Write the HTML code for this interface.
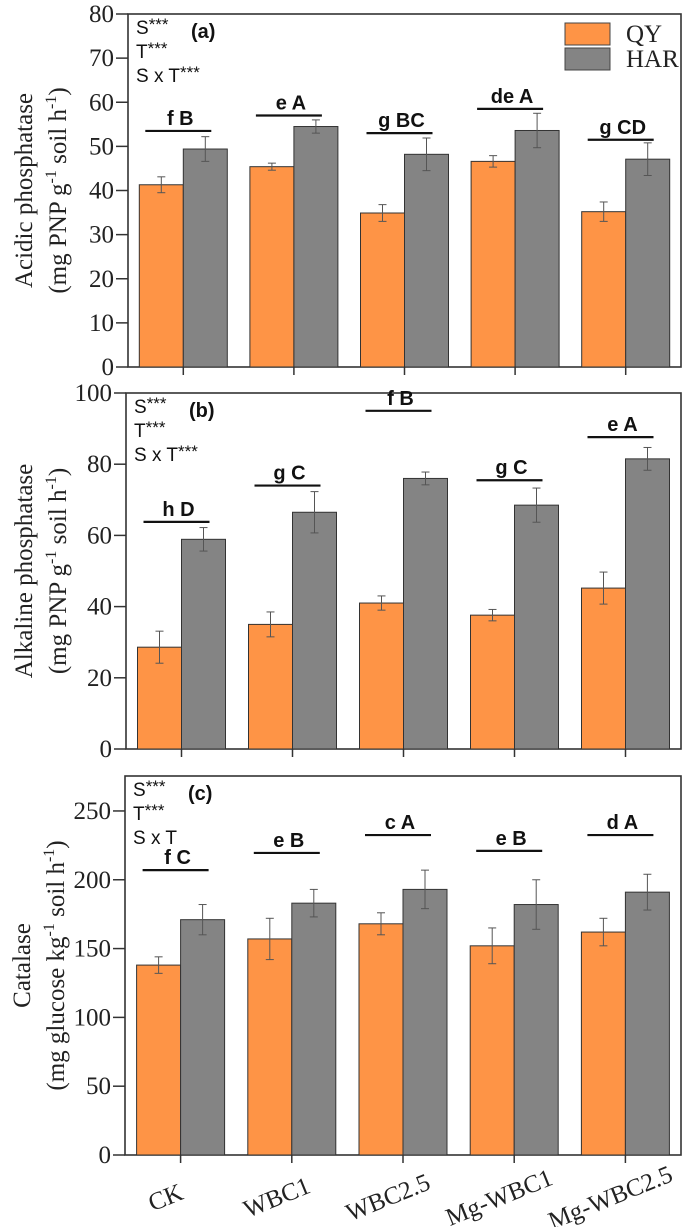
<!DOCTYPE html>
<html><head><meta charset="utf-8"><style>
html,body{margin:0;padding:0;background:#fff}
svg{display:block}
.tk{font-family:"Liberation Serif",serif;font-size:25px;fill:#222}
.ttl{font-family:"Liberation Serif",serif;font-size:25px;fill:#222}
.ann{font-family:"Liberation Sans",sans-serif;font-size:19px;fill:#111}
.lab{font-family:"Liberation Sans",sans-serif;font-size:20px;font-weight:bold;fill:#111}
</style></head><body>
<svg id="chart" width="685" height="1227" xmlns="http://www.w3.org/2000/svg"></svg>
<script>
const categories=["CK","WBC1","WBC2.5","Mg-WBC1","Mg-WBC2.5"];
const seriesNames=["QY","HAR"];
const aQY=[41.3,45.4,34.9,46.6,35.2];
const aQYerr=[1.8,0.8,1.9,1.3,2.2];
const aHAR=[49.4,54.5,48.2,53.6,47.1];
const aHARerr=[2.8,1.5,3.7,3.9,3.7];
const aLetters=["f B","e A","g BC","de A","g CD"];
const aLetterY=[53.5,57,53,58.5,51.5];
const aTicks=[0,10,20,30,40,50,60,70,80];
const bQY=[28.6,35,41,37.6,45.2];
const bQYerr=[4.5,3.5,2,1.6,4.5];
const bHAR=[58.9,66.5,76,68.5,81.5];
const bHARerr=[3.3,5.8,1.8,4.8,3.2];
const bLetters=["h D","g C","f B","g C","e A"];
const bLetterY=[63.8,74,95,75.5,87.6];
const bTicks=[0,20,40,60,80,100];
const cQY=[138,157,168,152,162];
const cQYerr=[6,15,8,13,10];
const cHAR=[171,183,193,182,191];
const cHARerr=[11,10,14,18,13];
const cLetters=["f C","e B","c A","e B","d A"];
const cLetterY=[207,219.5,232.5,221,232.5];
const cTicks=[0,50,100,150,200,250];

const NS="http://www.w3.org/2000/svg";
const svg=document.getElementById('chart');
function mk(tag,attrs,parent,text){const e=document.createElementNS(NS,tag);for(const k in attrs)e.setAttribute(k,attrs[k]);if(text!==undefined)e.textContent=text;(parent||svg).appendChild(e);return e;}

function panel(o){
  const g=mk('g',{});
  
  
  const L=o.left,R=681,T=o.top,B=o.bottom;
  const y=v=>B-(v/o.ymax)*(B-T);
  const step=(R-L)/categories.length;
  const cx=i=>L+step*(i+0.5);
  const bw=44;
  const fr=mk('rect',{x:L,y:T,width:R-L,height:B-T,fill:'none',stroke:'#333','stroke-width':1.6},g);
  
  
  o.ticks.forEach(t=>{
    mk('line',{x1:L-12,x2:L,y1:y(t),y2:y(t),stroke:'#333','stroke-width':1.5},g);
    const tx=mk('text',{x:L-14,y:y(t)+8,'text-anchor':'end',class:'tk'},g,String(t));
    
    
  });
  for(let i=0;i<categories.length;i++){
    mk('line',{x1:cx(i),x2:cx(i),y1:B,y2:B+8,stroke:'#333','stroke-width':1.5},g);
    const vals=[o.qy[i],o.har[i]],errs=[o.qye[i],o.hare[i]];
    [0,1].forEach(s=>{
      const x0=cx(i)-bw+s*bw;
      const r=mk('rect',{x:x0,y:y(vals[s]),width:bw,height:B-y(vals[s]),fill:s?'#848484':'#fe9446',stroke:'#333','stroke-width':1},g);
      
      
      const ex=x0+bw/2,yt=y(vals[s]+errs[s]),yb=y(vals[s]-errs[s]);
      mk('line',{x1:ex,x2:ex,y1:yt,y2:yb,stroke:'#555','stroke-width':1},g);
      mk('line',{x1:ex-4,x2:ex+4,y1:yt,y2:yt,stroke:'#555','stroke-width':1},g);
      mk('line',{x1:ex-4,x2:ex+4,y1:yb,y2:yb,stroke:'#555','stroke-width':1},g);
    });
    const ly=y(o.ly[i]);
    mk('line',{x1:cx(i)-38,x2:cx(i)+28,y1:ly,y2:ly,stroke:'#111','stroke-width':2.2},g);
    const lt=mk('text',{x:cx(i)-3,y:ly-6,'text-anchor':'middle',class:'lab'},g,o.letters[i]);
    
    
  }
  o.stats.forEach((s,k)=>{
    const t=mk('text',{x:L+8,y:T+20+k*24,class:'ann'},g);
    
    
    mk('tspan',{},t,s[0]);
    if(s[1])mk('tspan',{dy:-4,'font-size':'17'},t,s[1]);
  });
  const pl=mk('text',{x:L+63,y:T+24,class:'lab','font-size':'22'},g,'('+o.id+')');
  
  
  const tg=mk('g',{transform:`translate(${o.tx},${(T+B)/2}) rotate(-90)`},g);
  const t1=mk('text',{x:0,y:0,'text-anchor':'middle',class:'ttl'},tg,o.t1);
  
  
  const t2=mk('text',{x:0,y:34,'text-anchor':'middle',class:'ttl'},tg);
  
  
  o.t2.forEach(p=>{ if(p.sup) mk('tspan',{dy:-10,'font-size':'16'},t2,p.t); else mk('tspan',{dy:p.dy||0},t2,p.t); });
  return {cx,B};
}
panel({id:'a',left:128,top:14,bottom:367,ymax:80,ticks:aTicks,qy:aQY,qye:aQYerr,har:aHAR,hare:aHARerr,letters:aLetters,ly:aLetterY,
  stats:[['S','***'],['T','***'],['S x T','***']],tx:32,t1:'Acidic phosphatase',
  t2:[{t:'(mg PNP g'},{t:'-1',sup:1},{t:' soil h',dy:10},{t:'-1',sup:1},{t:')',dy:10}]});
panel({id:'b',left:126,top:393,bottom:749,ymax:100,ticks:bTicks,qy:bQY,qye:bQYerr,har:bHAR,hare:bHARerr,letters:bLetters,ly:bLetterY,
  stats:[['S','***'],['T','***'],['S x T','***']],tx:32,t1:'Alkaline phosphatase',
  t2:[{t:'(mg PNP g'},{t:'-1',sup:1},{t:'  soil h',dy:10},{t:'-1',sup:1},{t:')',dy:10}]});
const pc=panel({id:'c',left:125,top:776,bottom:1155,ymax:275.4,ticks:cTicks,qy:cQY,qye:cQYerr,har:cHAR,hare:cHARerr,letters:cLetters,ly:cLetterY,
  stats:[['S','***'],['T','***'],['S x T','']],tx:30,t1:'Catalase',
  t2:[{t:'(mg glucose kg'},{t:'-1',sup:1},{t:'  soil h',dy:10},{t:'-1',sup:1},{t:')',dy:10}]});
categories.forEach((c,i)=>{
  const t=mk('text',{x:0,y:0,'text-anchor':'middle',class:'tk','font-size':'24',transform:`translate(${pc.cx(i)-12},${1205}) rotate(-22)`},svg,c);
  
  
});
const lg=mk('g',{});


mk('rect',{x:565,y:23,width:45,height:22,fill:'#fe9446',stroke:'#444','stroke-width':1},lg);
mk('rect',{x:565,y:48,width:45,height:22,fill:'#848484',stroke:'#444','stroke-width':1},lg);
const l1=mk('text',{x:626,y:42,class:'tk','font-size':'19'},lg,'QY');


const l2=mk('text',{x:626,y:67,class:'tk','font-size':'19'},lg,'HAR');


</script>
</body></html>
